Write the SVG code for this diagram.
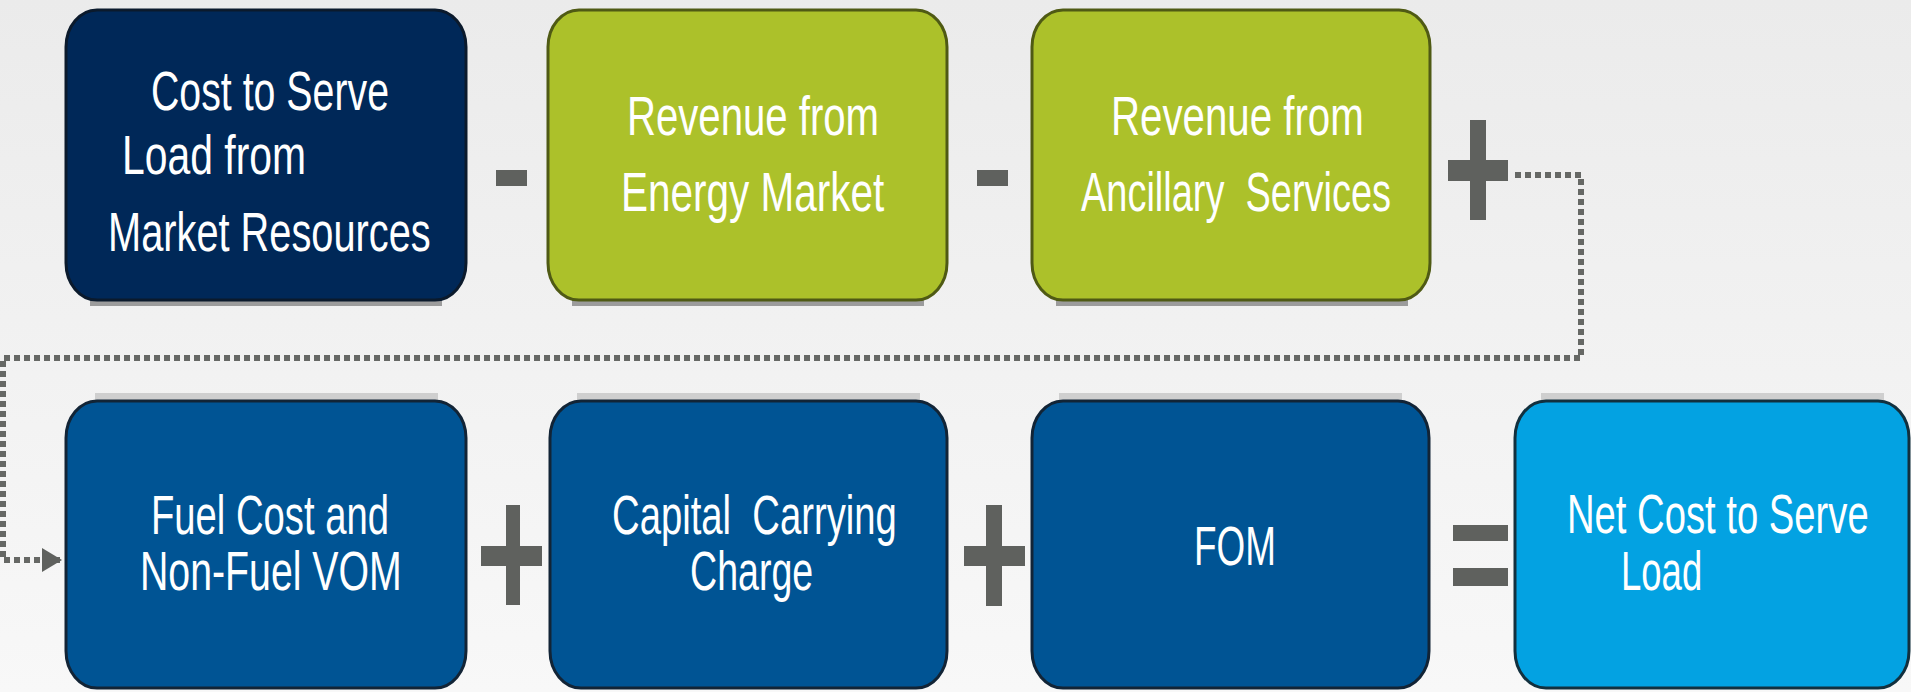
<svg xmlns="http://www.w3.org/2000/svg" width="1911" height="692" viewBox="0 0 1911 692">
  <defs>
    <linearGradient id="bg" x1="0" y1="0" x2="0" y2="1">
      <stop offset="0" stop-color="#ebebeb"/>
      <stop offset="1" stop-color="#f8f8f8"/>
    </linearGradient>
    <marker id="arrow" markerUnits="userSpaceOnUse" markerWidth="22" markerHeight="26" refX="20" refY="12" orient="auto">
      <path d="M0,0 L20,12 L0,24 Z" fill="#5f615e"/>
    </marker>
    <style>
      .lbl { font-family: "Liberation Sans", Arial, sans-serif; font-size: 55px; fill: #ffffff; }
      .op { fill: #5f615e; }
      .shadow-dn { fill: #9c9c9c; }
      .shadow-up { fill: #cfcfcf; }
      .navy { fill: #002858; stroke: #0b1a2c; stroke-width: 3; }
      .green { fill: #acc12a; stroke: #4f5a14; stroke-width: 3; }
      .blue { fill: #005494; stroke: #122436; stroke-width: 3; }
      .sky { fill: #03a2e2; stroke: #12303e; stroke-width: 3; }
      .flow { fill: none; stroke: #666865; stroke-width: 6; stroke-dasharray: 6 4; }
    </style>
  </defs>

  <rect x="0" y="0" width="1911" height="692" fill="url(#bg)"/>

  <!-- loop-back connector from the top row to the bottom row -->
  <g id="connectors">
    <path class="flow" d="M1515,175 H1581 V358 H3 V560 H62" marker-end="url(#arrow)"/>
  </g>

  <!-- top row; labels use a horizontally condensed face -->
  <g id="cost-to-serve-market">
    <rect class="shadow-dn" x="90" y="300" width="352" height="6"/>
    <rect class="navy" x="66" y="10" width="400" height="290" rx="31" ry="37"/>
    <text class="lbl" transform="translate(151,110) scale(0.7,1)" textLength="340" lengthAdjust="spacingAndGlyphs">Cost to Serve</text>
    <text class="lbl" transform="translate(122,174) scale(0.7,1)" textLength="263" lengthAdjust="spacingAndGlyphs">Load from</text>
    <text class="lbl" transform="translate(108,251) scale(0.7,1)" textLength="461" lengthAdjust="spacingAndGlyphs">Market Resources</text>
  </g>

  <g id="revenue-energy">
    <rect class="shadow-dn" x="572" y="300" width="352" height="6"/>
    <rect class="green" x="548" y="10" width="399" height="290" rx="31" ry="37"/>
    <text class="lbl" transform="translate(627,135) scale(0.7,1)" textLength="360" lengthAdjust="spacingAndGlyphs">Revenue from</text>
    <text class="lbl" transform="translate(621,211) scale(0.7,1)" textLength="376" lengthAdjust="spacingAndGlyphs">Energy Market</text>
  </g>

  <g id="revenue-ancillary">
    <rect class="shadow-dn" x="1056" y="300" width="352" height="6"/>
    <rect class="green" x="1032" y="10" width="398" height="290" rx="31" ry="37"/>
    <text class="lbl" transform="translate(1111,135) scale(0.7,1)" textLength="361" lengthAdjust="spacingAndGlyphs">Revenue from</text>
    <text class="lbl" transform="translate(1081,211) scale(0.7,1)" textLength="443" lengthAdjust="spacingAndGlyphs" xml:space="preserve">Ancillary  Services</text>
  </g>

  <!-- bottom row -->
  <g id="fuel-vom">
    <rect class="shadow-up" x="95" y="393" width="343" height="7"/>
    <rect class="blue" x="66" y="401" width="400" height="287" rx="31" ry="37"/>
    <text class="lbl" transform="translate(151,534) scale(0.7,1)" textLength="340" lengthAdjust="spacingAndGlyphs">Fuel Cost and</text>
    <text class="lbl" transform="translate(140,590) scale(0.7,1)" textLength="374" lengthAdjust="spacingAndGlyphs">Non-Fuel VOM</text>
  </g>

  <g id="capital-carrying">
    <rect class="shadow-up" x="577" y="393" width="343" height="7"/>
    <rect class="blue" x="550" y="401" width="397" height="287" rx="31" ry="37"/>
    <text class="lbl" transform="translate(612,534) scale(0.7,1)" textLength="407" lengthAdjust="spacingAndGlyphs" xml:space="preserve">Capital  Carrying</text>
    <text class="lbl" transform="translate(690,590) scale(0.7,1)" textLength="176" lengthAdjust="spacingAndGlyphs">Charge</text>
  </g>

  <g id="fom">
    <rect class="shadow-up" x="1059" y="393" width="343" height="7"/>
    <rect class="blue" x="1032" y="401" width="397" height="287" rx="31" ry="37"/>
    <text class="lbl" transform="translate(1194,565) scale(0.7,1)" textLength="117" lengthAdjust="spacingAndGlyphs">FOM</text>
  </g>

  <g id="net-cost">
    <rect class="shadow-up" x="1541" y="393" width="343" height="7"/>
    <rect class="sky" x="1515" y="401" width="394" height="287" rx="31" ry="37"/>
    <text class="lbl" transform="translate(1567,533) scale(0.7,1)" textLength="431" lengthAdjust="spacingAndGlyphs">Net Cost to Serve</text>
    <text class="lbl" transform="translate(1621,590) scale(0.7,1)" textLength="116" lengthAdjust="spacingAndGlyphs">Load</text>
  </g>

  <!-- arithmetic operators between the boxes -->
  <g id="operators">
    <rect class="op" x="496" y="170" width="31" height="16"/>
    <rect class="op" x="977" y="170" width="31" height="16"/>
    <rect class="op" x="1470" y="120" width="16" height="100"/>
    <rect class="op" x="1448" y="160" width="60" height="21"/>
    <rect class="op" x="506" y="505" width="14" height="100"/>
    <rect class="op" x="481" y="546" width="61" height="20"/>
    <rect class="op" x="986" y="505" width="16" height="101"/>
    <rect class="op" x="964" y="546" width="61" height="20"/>
    <rect class="op" x="1453" y="525" width="55" height="16"/>
    <rect class="op" x="1453" y="568" width="55" height="18"/>
  </g>
</svg>
